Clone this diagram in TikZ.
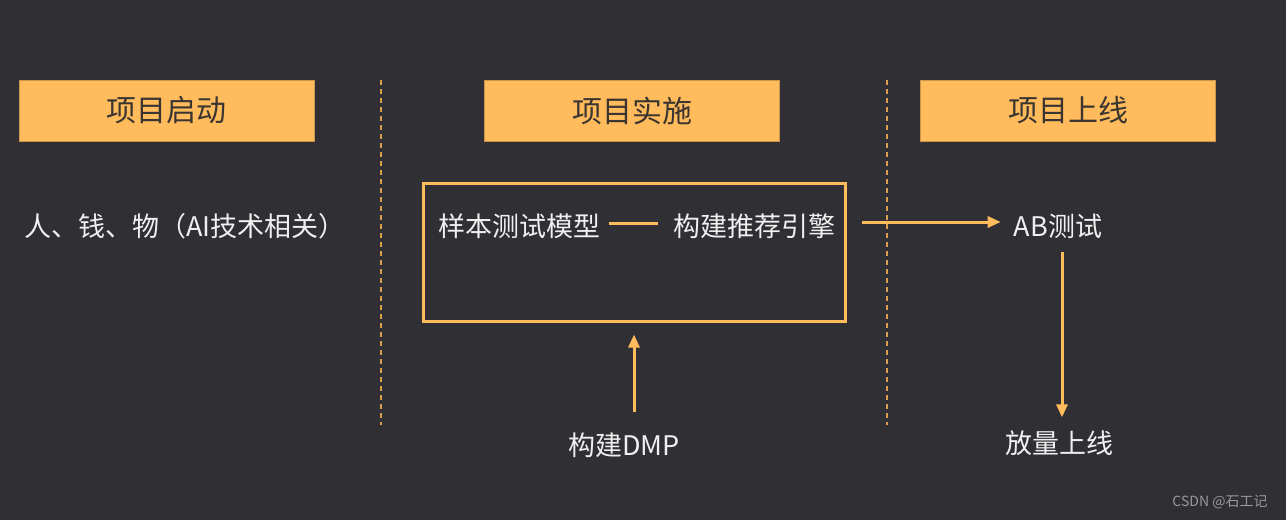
\documentclass[tikz,border=0pt]{standalone}
\usepackage{fontspec}
\setmainfont{Noto Sans CJK SC}
\usepackage{xcolor}
\usepackage{tikz}
\usetikzlibrary{arrows.meta}
\usetikzlibrary{backgrounds,positioning}
\pgfdeclarelayer{edgelayer}
\pgfdeclarelayer{nodelayer}
\pgfsetlayers{background,edgelayer,nodelayer,main}
\definecolor{bg}{HTML}{2F2F34}
\definecolor{amber}{HTML}{FFBB5C}
\definecolor{ink}{HTML}{3A3530}
\definecolor{txt}{HTML}{F0F0F0}
\tikzstyle{none}=[inner sep=0mm]
\tikzstyle{hdr}=[fill=amber,draw=amber!80!black,line width=0.8pt,minimum width=295pt,minimum height=61pt,inner sep=0pt,text=ink,font=\fontsize{30pt}{32pt}\selectfont]
\tikzstyle{lbl}=[inner sep=0pt,text=txt,font=\fontsize{27pt}{29pt}\selectfont]
\tikzstyle{frame}=[draw=amber,line width=3pt,minimum width=422pt,minimum height=138pt,inner sep=0pt]
\tikzstyle{sep}=[draw=amber!85!black,dashed,dash pattern=on 5pt off 4pt,line width=1.2pt]
\tikzstyle{link}=[draw=amber,line width=3pt]
\tikzstyle{diredge}=[link,-{Triangle[length=13pt,width=11pt]}]
\begin{document}
\begin{tikzpicture}[x=1pt,y=-1pt]
	\begin{pgfonlayer}{background}
		\fill [bg] (0,0) rectangle (1286,520);
	\end{pgfonlayer}
	\useasboundingbox (0,0) rectangle (1286,520);
	\begin{pgfonlayer}{nodelayer}
		\node [style=hdr] (0) at (166.5, 110.5) {项目启动};
		\node [style=hdr] (1) at (632, 110.5) {项目实施};
		\node [style=hdr] (2) at (1068, 110.5) {项目上线};
		\node [style=lbl, anchor=west] (3) at (24, 226) {人、钱、物（AI技术相关）};
		\node [style=frame] (4) at (634, 252) {};
		\node [style=lbl, anchor=west] (5) at (438, 226) {样本测试模型};
		\node [style=lbl, anchor=west] (6) at (673, 226) {构建推荐引擎};
		\node [style=lbl] (7) at (1058, 226) {AB测试};
		\node [style=lbl] (8) at (1059, 443) {放量上线};
		\node [style=lbl] (9) at (624, 445) {构建DMP};
		\node [style=none] (10) at (381, 80) {};
		\node [style=none] (11) at (381, 425) {};
		\node [style=none] (12) at (887, 80) {};
		\node [style=none] (13) at (887, 425) {};
		\node [text=gray!80, inner sep=0pt, font=\fontsize{14pt}{16pt}\selectfont] (14) at (1220, 502) {CSDN @石工记};
	\end{pgfonlayer}
	\begin{pgfonlayer}{edgelayer}
		\draw [style=sep] (10.center) to (11.center);
		\draw [style=sep] (12.center) to (13.center);
		\draw [style=link, shorten <=9pt, shorten >=15pt] (5.east |- 0,223) to (6.west |- 0,223);
		\draw [style=diredge, shorten <=15pt, shorten >=13pt] (4.east |- 0,222) to (7.west |- 0,222);
		\draw [style=diredge, shorten <=13pt, shorten >=13pt] (7.south -| 1062,0) to (8.north -| 1062,0);
		\draw [style=diredge, shorten <=20pt, shorten >=12pt] (9.north -| 4.south) to (4.south);
	\end{pgfonlayer}
\end{tikzpicture}
\end{document}
